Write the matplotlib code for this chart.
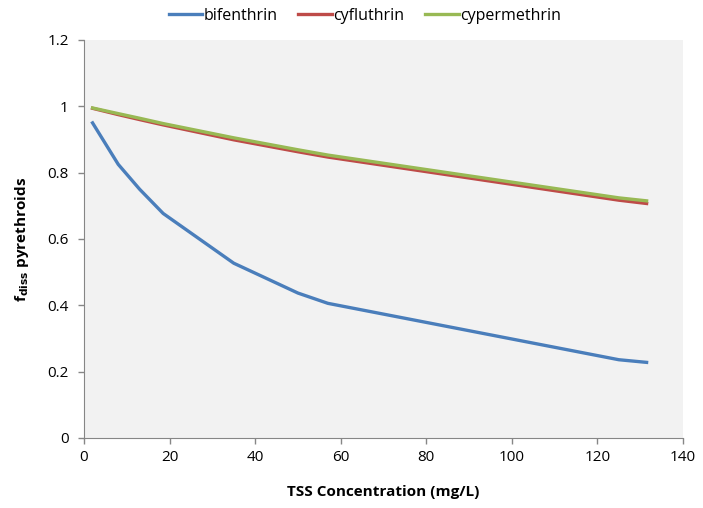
import matplotlib
matplotlib.use('Agg')
from matplotlib import pyplot as plt

# TSS concentration (mg/L)
tss = [2, 8, 13, 18.5, 35, 50, 57, 125, 131.5]
bifenthrin = [0.95, 0.825, 0.75, 0.677, 0.527, 0.437, 0.406, 0.236, 0.228]
cyfluthrin = [0.994, 0.975, 0.96, 0.944, 0.899, 0.863, 0.847, 0.717, 0.707]
cypermethrin = [0.995, 0.978, 0.964, 0.948, 0.905, 0.869, 0.853, 0.724, 0.715]

xticks = [0, 20, 40, 60, 80, 100, 120, 140]
yticks = [0, 0.2, 0.4, 0.6, 0.8, 1.0, 1.2]
ylabels = ['0', '0.2', '0.4', '0.6', '0.8', '1', '1.2']

plt.rcParams['font.family'] = ['Open Sans', 'DejaVu Sans']

fig = plt.figure(figsize=(7.03, 5.08), dpi=100)
ax = fig.add_axes([0.1195, 0.1378, 0.852, 0.7835])
ax.set_facecolor('#f2f2f2')

ax.plot(tss, bifenthrin, color='#4a7ebb', lw=2.4, label='bifenthrin')
ax.plot(tss, cyfluthrin, color='#be4b48', lw=2.4, label='cyfluthrin')
ax.plot(tss, cypermethrin, color='#98b954', lw=2.4, label='cypermethrin')

ax.set_xlim(0, 140)
ax.set_ylim(0, 1.2)
ax.set_xticks(xticks)
ax.set_yticks(yticks)
ax.set_yticklabels(ylabels)
ax.tick_params(axis='both', labelsize=11, colors='#868686', labelcolor='black', length=4, width=1)
ax.tick_params(axis='x', pad=5)
ax.tick_params(axis='y', pad=7)
for s in ['top', 'right']:
    ax.spines[s].set_visible(False)
for s in ['left', 'bottom']:
    ax.spines[s].set_color('#868686')

ax.set_xlabel('TSS Concentration (mg/L)', fontsize=11, fontweight='bold', labelpad=14)
ax.set_ylabel(r'f$_{\mathbf{diss}}$ pyrethroids', fontsize=11, fontweight='bold', labelpad=12)

ax.legend(loc='upper center', bbox_to_anchor=(0.469, 1.117), ncol=3, frameon=False,
          fontsize=11.5, handlelength=2.1, handletextpad=0.1, columnspacing=1.3)

fig.savefig('out.png', dpi=100)
